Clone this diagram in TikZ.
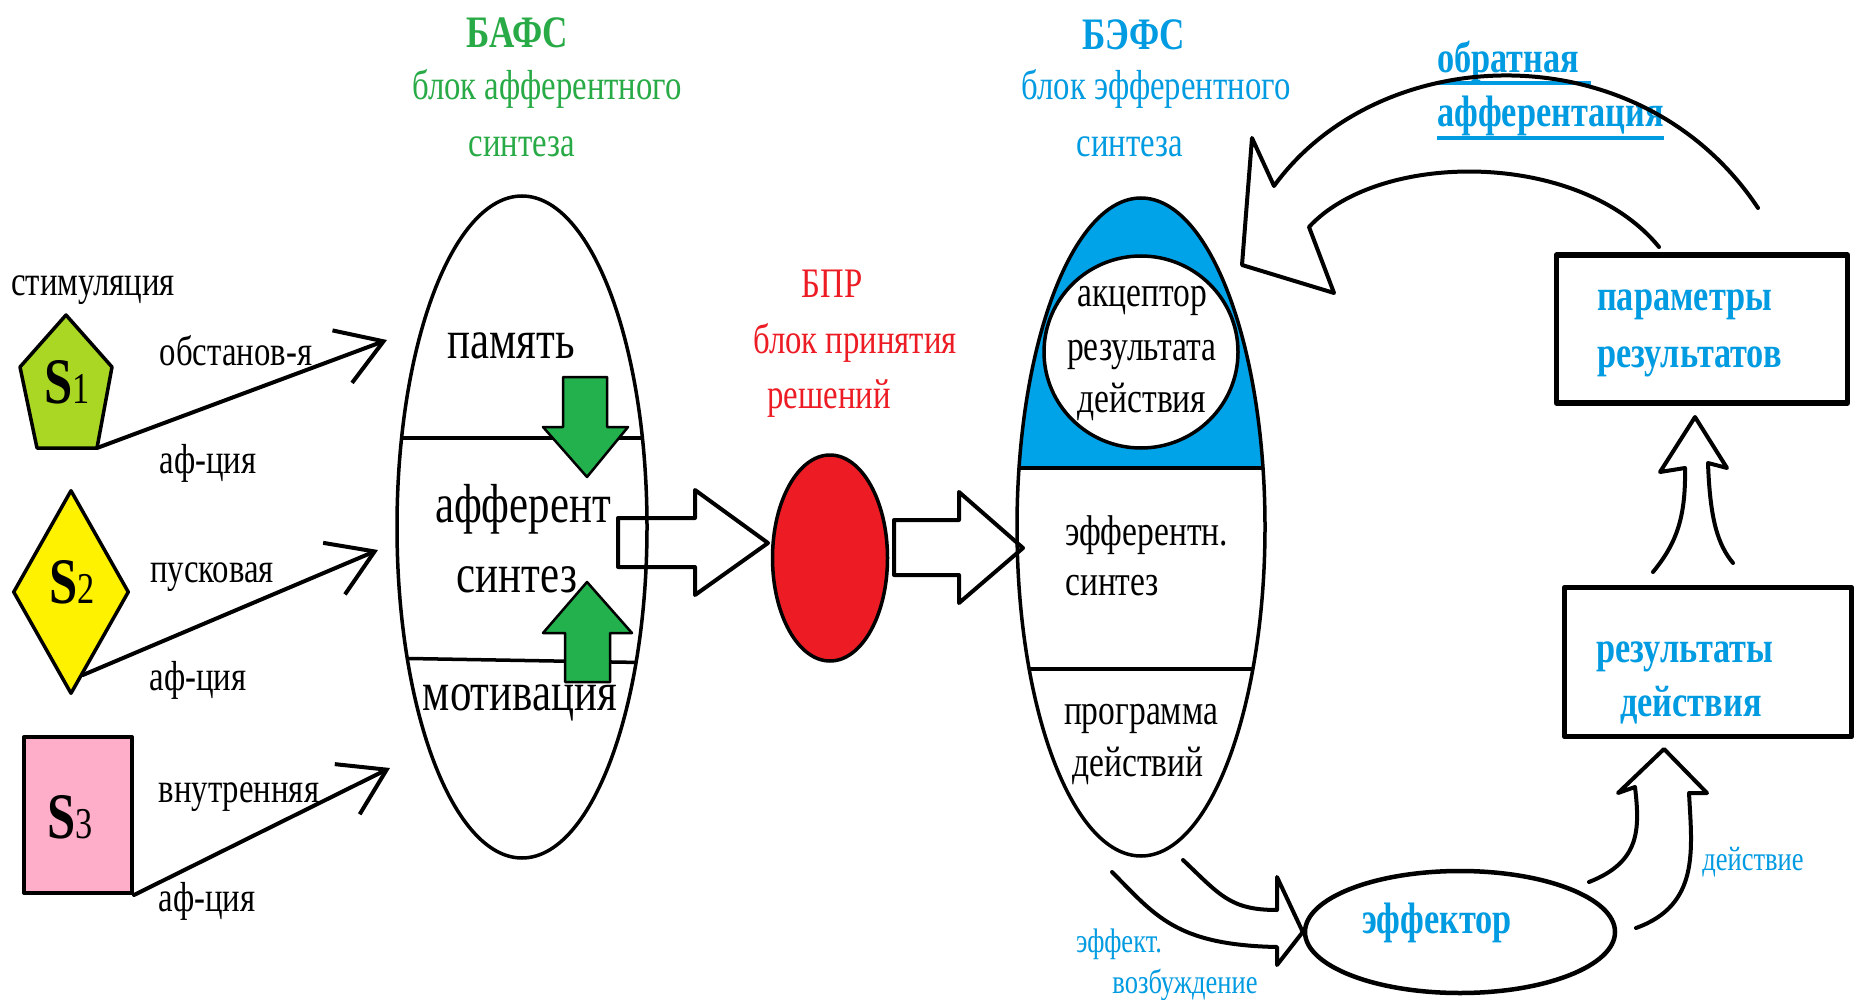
\documentclass[tikz,border=0pt]{standalone}
\usepackage{fontspec}
\setmainfont{Liberation Serif}[FakeStretch=0.78]
\usetikzlibrary{arrows.meta,shapes.geometric,calc}
\definecolor{limeg}{RGB}{170,215,35}
\definecolor{yel}{RGB}{255,242,0}
\definecolor{pinkk}{RGB}{255,174,201}
\definecolor{redd}{RGB}{237,28,36}
\definecolor{grn}{RGB}{34,177,76}
\definecolor{txtgrn}{RGB}{40,170,70}
\definecolor{blu}{RGB}{0,162,232}
\definecolor{txtblu}{RGB}{0,155,225}
\newcommand\fsz[1]{\fontsize{#1}{#1}\selectfont}
\begin{document}
\begin{tikzpicture}[x=1pt,y=-1pt,line join=round,line cap=round,
  txt/.style={anchor=base,inner sep=0pt,font=\fsz{42}},
  big/.style={txt,font=\fsz{55}},
  mid/.style={txt,font=\fsz{43}},
  small/.style={txt,font=\fsz{34},text=txtblu},
  bbold/.style={txt,font=\fsz{44}\bfseries,text=txtblu},
  chev/.style={line width=4pt,-{Straight Barb[length=44pt,width=56pt]}},
  outl/.style={line width=3.5pt},
  garrow/.style={fill=grn,draw=black,line width=2.5pt},
  hollow/.style={draw=black,line width=4pt},
  boxx/.style={draw,line width=5.5pt,inner sep=0pt},
]
\fill[white] (0,0) rectangle (1855,1000);
\useasboundingbox (0,0) rectangle (1855,1000);

% ---------- stimuli
\node[txt] (stim) at (93,295) {стимуляция};
\coordinate (pa) at (66,315); \coordinate (pb) at (112,367); \coordinate (pc) at (97,448);
\coordinate (pd) at (37,448); \coordinate (pe) at (20,367);
\draw[outl,fill=limeg] (pa)--(pb)--(pc)--(pd)--(pe)--cycle;
\node[txt] (s1) at (67,403) {\fsz{65}\bfseries S\fsz{44}\mdseries 1};
\node[diamond,draw,fill=yel,outl,minimum width=116pt,minimum height=204pt,inner sep=0pt] (s2) at (71,592) {};
\node[txt] (s2l) at (72,603) {\fsz{65}\bfseries S\fsz{44}\mdseries 2};
\node[draw,fill=pinkk,line width=4pt,minimum width=108pt,minimum height=156pt,inner sep=0pt] (s3) at (78,815) {};
\node[txt] (s3l) at (70,838) {\fsz{65}\bfseries S\fsz{44}\mdseries 3};

\coordinate (t1) at (387,340);
\coordinate (t2) at (378,550);
\coordinate (t3) at (390,768);
\draw[chev] (pc) -- (t1);
\draw[chev] ($(s2.south)!0.2!(s2.east)$) -- (t2);
\draw[chev] (s3.south east) -- (t3);

\node[txt] (l1a) at (236,365) {обстанов-я};
\node[txt] (l1b) at (208,473) {аф-ция};
\node[txt] (l2a) at (212,582) {пусковая};
\node[txt] (l2b) at (198,690) {аф-ция};
\node[txt] (l3a) at (239,802) {внутренняя};
\node[txt] (l3b) at (207,911) {аф-ция};

% ---------- BAFS
\node[txt,text=txtgrn,font=\fsz{45}\bfseries] (bafsT) at (517,48) {БАФС};
\node[txt,text=txtgrn] (bafs1) at (547,100) {блок афферентного};
\node[txt,text=txtgrn] (bafs2) at (522,157) {синтеза};
\begin{scope}
  \clip (522,527) ellipse [x radius=125,y radius=331];
  \draw[outl] (380,438) -- (670,438);
  \draw[outl] (380,658) -- (670,663);
\end{scope}
\node[ellipse,draw,outl,minimum width=250pt,minimum height=662pt,inner sep=0pt] (bafs) at (522,527) {};
\draw[garrow] (563,377)--(607,377)--(607,427)--(628,427)--(587,477)--(543,427)--(563,427)--cycle;
\draw[garrow] (587,582)--(632,633)--(610,633)--(610,682)--(565,682)--(565,633)--(543,633)--cycle;
\node[big] (mem) at (511,358) {память};
\node[big] (aff) at (523,522) {афферент};
\node[big] (syn) at (517,592) {синтез};
\node[big] (mot) at (520,710) {мотивация};

% ---------- BPR
\node[txt,text=redd] (bprT) at (832,298) {БПР};
\node[txt,text=redd] (bpr1) at (855,353) {блок принятия};
\node[txt,text=redd] (bpr2) at (829,408) {решений};
\node[ellipse,draw,fill=redd,line width=3.5pt,minimum width=115pt,minimum height=206pt,inner sep=0pt] (bpr) at (830,558) {};
\coordinate (tipA) at (768,543);
\draw[hollow] (618,518)--(695,518)--(695,490)--(tipA)--(695,595)--(695,567)--(618,567)--cycle;
\coordinate (tipB) at (1023,548);
\draw[hollow] (894,520)--(959,520)--(959,492)--(tipB)--(959,603)--(959,575)--(894,575)--cycle;

% ---------- BEFS
\node[txt,text=txtblu,font=\fsz{45}\bfseries] (befsT) at (1134,50) {БЭФС};
\node[txt,text=txtblu] (befs1) at (1156,100) {блок эфферентного};
\node[txt,text=txtblu] (befs2) at (1130,157) {синтеза};
\begin{scope}
  \clip (1141,527) ellipse [x radius=124,y radius=329];
  \fill[blu] (1000,150) rectangle (1300,468);
  \draw[outl] (1000,468) -- (1300,468);
  \draw[outl] (1000,669) -- (1300,669);
\end{scope}
\node[ellipse,draw,outl,minimum width=248pt,minimum height=658pt,inner sep=0pt] (befs) at (1141,527) {};
\node[ellipse,draw,fill=white,outl,minimum width=194pt,minimum height=192pt,inner sep=0pt] (acc) at (1141,352) {};
\node[mid] (acc1) at (1142,307) {акцептор};
\node[mid] (acc2) at (1142,360) {результата};
\node[mid] (acc3) at (1142,412) {действия};
\node[mid,anchor=base west] (efs1) at (1065,545) {эфферентн.};
\node[mid,anchor=base west] (efs2) at (1065,595) {синтез};
\node[mid] (prg1) at (1141,724) {программа};
\node[mid] (prg2) at (1138,776) {действий};

% ---------- effector
\node[ellipse,draw,line width=4.5pt,minimum width=310pt,minimum height=122pt,inner sep=0pt] (eff) at (1460,932) {};
\node[bbold] (effl) at (1437,933) {эффектор};
\coordinate (c1) at (1183,860); \coordinate (c2) at (1112,872);
\draw[hollow] (c1) .. controls (1220,895) and (1230,910) .. (1277,910) -- (1277,877) -- (eff.west) -- (1277,965) -- (1277,947) .. controls (1175,945) and (1155,915) .. (c2);
\node[small] (ef1) at (1119,952) {эффект.};
\node[small] (ef2) at (1185,993) {возбуждение};
\node[small] (act) at (1753,870) {действие};

% ---------- right boxes
\node[boxx,minimum width=291pt,minimum height=148pt] (par) at (1702,329) {};
\node[bbold,anchor=base west] (par1) at (1597,311) {параметры};
\node[bbold,anchor=base west] (par2) at (1597,367) {результатов};
\node[boxx,minimum width=287pt,minimum height=149pt] (res) at (1708,662) {};
\node[bbold] (res1) at (1685,662) {результаты};
\node[bbold] (res2) at (1691,716) {действия};

\coordinate (d1) at (1589,882); \coordinate (d2) at (1636,928); \coordinate (tipD) at (1664,749);
\draw[hollow] (d1) .. controls (1640,862) and (1640,830) .. (1635,787) -- (1618,793) -- (tipD) -- (1707,793) -- (1689,793) .. controls (1692,850) and (1700,905) .. (d2);

\coordinate (e1) at (1653,572); \coordinate (e2) at (1733,563); \coordinate (tipE) at (1695,417);
\draw[hollow] (e1) .. controls (1675,545) and (1686,520) .. (1685,468) -- (1660,472) -- (tipE) -- (1727,468) -- (1708,463) .. controls (1710,520) and (1718,545) .. (e2);

% ---------- feedback
\node[bbold,anchor=base west] (fb1) at (1437,73) {обратная};
\node[bbold,anchor=base west] (fb2) at (1437,127) {афферентация};
\draw[txtblu,line width=3.5pt,line cap=butt] ([yshift=-10pt]fb1.base west) -- ([xshift=12pt,yshift=-10pt]fb1.base east);
\draw[txtblu,line width=3.5pt,line cap=butt] ([yshift=-11pt]fb2.base west) -- ([yshift=-11pt]fb2.base east);
\coordinate (f1) at (1758,208); \coordinate (f2) at (1659,247); \coordinate (tipF) at (1242,265);
\draw[hollow] (f1) .. controls (1640,30) and (1380,40) .. (1274,186) -- (1252,138) -- (tipF) -- (1334,293) -- (1309,227) .. controls (1380,150) and (1580,150) .. (f2);
\end{tikzpicture}
\end{document}
